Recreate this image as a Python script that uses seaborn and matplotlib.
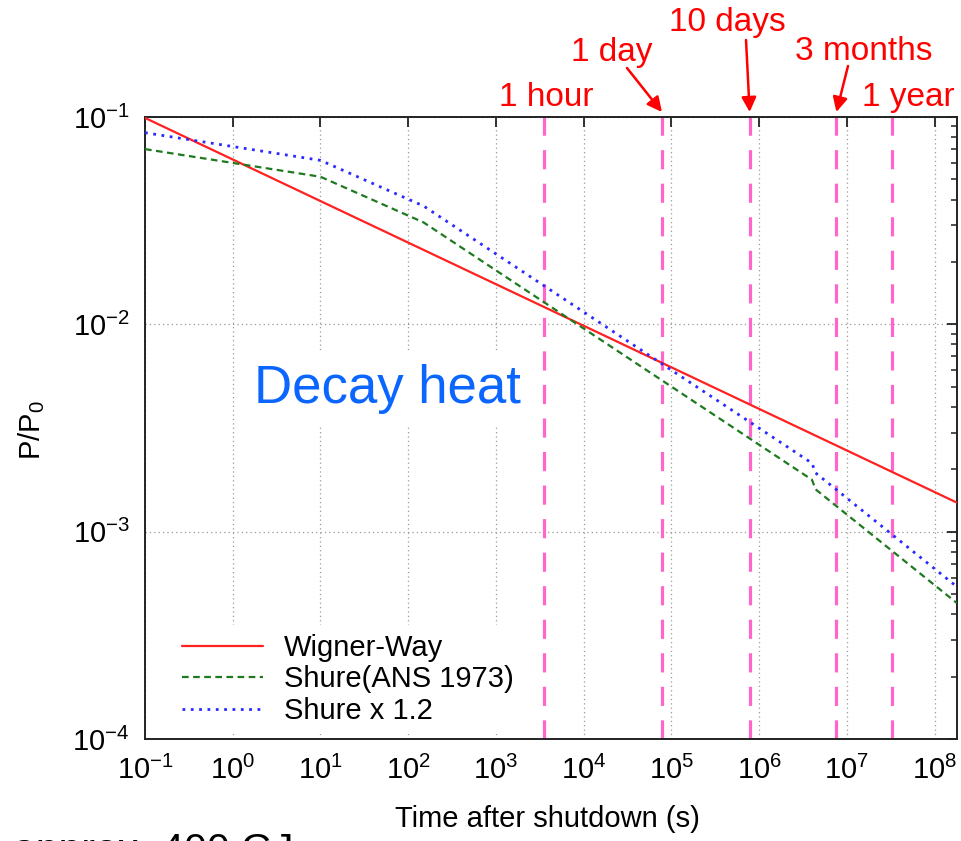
import numpy as np
import pandas as pd
import matplotlib
matplotlib.use("Agg")
import matplotlib.pyplot as plt
import seaborn as sns

# values (time in s, P/P0)
wigner_t = [0.1, 1.8e8]
wigner_p = [0.0990, 0.00138]

shure_t = [0.1, 10, 150, 4.0e6, 4.4e6, 1.8e8]
shure_p = [0.0700, 0.0515, 0.0310, 0.00178, 0.00160, 0.000452]

shure12_t = [0.1, 10, 150, 4.0e6, 4.4e6, 1.8e8]
shure12_p = [0.0840, 0.0618, 0.0372, 0.00214, 0.00192, 0.000542]

mark_t = [3500, 78000, 780000, 7.6e6, 3.3e7]
mark_labels = ["1 hour", "1 day", "10 days", "3 months", "1 year"]

sns.set_theme(style="white")
plt.rcParams['font.family'] = ['Liberation Sans', 'DejaVu Sans']
plt.rcParams['mathtext.default'] = 'regular'
plt.rcParams['axes.unicode_minus'] = False
plt.rcParams['text.color'] = 'black'
plt.rcParams['axes.labelcolor'] = 'black'
plt.rcParams['xtick.color'] = 'black'
plt.rcParams['ytick.color'] = 'black'

W, H = 962, 841
fig = plt.figure(figsize=(W / 100, H / 100), dpi=100)
ax = fig.add_axes([145 / W, 1 - 739 / H, (957 - 145) / W, (739 - 117) / H])

df_w = pd.DataFrame({"t": wigner_t, "p": wigner_p})
df_s = pd.DataFrame({"t": shure_t, "p": shure_p})
df_s12 = pd.DataFrame({"t": shure12_t, "p": shure12_p})

sns.lineplot(data=df_w, x="t", y="p", ax=ax, color="#ff2020", lw=1.6,
             estimator=None, sort=False, label="Wigner-Way", zorder=3)
sns.lineplot(data=df_s, x="t", y="p", ax=ax, color="#1e7a1e", lw=1.6,
             estimator=None, sort=False, label="Shure(ANS 1973)", zorder=3,
             linestyle=(0, (3, 2)))
sns.lineplot(data=df_s12, x="t", y="p", ax=ax, color="#2a2aff", lw=2.0,
             estimator=None, sort=False, label="Shure x 1.2", zorder=3,
             linestyle=(0, (1, 2)))

ax.set_xscale("log")
ax.set_yscale("log")
ax.set_xlim(0.1, 1.8e8)
ax.set_ylim(1e-4, 1e-1)

# time markers
for t in mark_t:
    ax.axvline(t, color="#ff66cc", lw=2.3, linestyle=(0, (6, 4.5)), zorder=2)

ax.xaxis.set_major_locator(matplotlib.ticker.LogLocator(base=10, numticks=20))
ax.xaxis.set_minor_locator(matplotlib.ticker.NullLocator())
ax.yaxis.set_minor_locator(matplotlib.ticker.LogLocator(base=10, subs=np.arange(2, 10), numticks=20))

ax.set_axisbelow(True)
ax.grid(True, which="major", color="#9a9a9a", lw=0.9, linestyle=(0, (1, 2.5)))
ax.tick_params(which="both", direction="in", top=True, right=True, labelsize=21, color="#222222")
ax.tick_params(which="major", length=7, width=1.3)
ax.tick_params(which="minor", length=4, width=1.1)
ax.tick_params(axis="y", pad=11)
ax.tick_params(axis="x", pad=12)
for s in ax.spines.values():
    s.set_linewidth(1.4)
    s.set_color("#222222")

ax.set_xlabel("Time after shutdown (s)", fontsize=21)
ax.set_ylabel("P/P$_0$", fontsize=21)
ax.xaxis.set_label_coords((547 - 145) / 812, (739 - 805) / 622)
ax.yaxis.set_label_coords((47 - 145) / 812, (739 - 430) / 622)

leg = ax.legend(loc="upper left", bbox_to_anchor=((173 - 145) / 812, (739 - 625) / 622),
                fontsize=21, frameon=True, facecolor="white", edgecolor="none",
                framealpha=1, handlelength=2.8, handletextpad=0.7,
                labelspacing=0.12, borderpad=0.3, borderaxespad=0)
leg.set_zorder(5)

ax.text((387 - 145) / 812, (739 - 403) / 622, "Decay heat", transform=ax.transAxes,
        ha="center", va="baseline", fontsize=38, color="#0a66ff", zorder=1,
        bbox=dict(boxstyle="square,pad=0.2", facecolor="white", edgecolor="none"))

# labels above the plot
label_pos = [(546, 106), (612, 61), (727, 31), (864, 60), (908, 106)]
for lab, (px, py) in zip(mark_labels, label_pos):
    fig.text(px / W, 1 - py / H, lab, ha="center", va="baseline", fontsize=24, color="#ff0000")

arrow_tails = {1: (627, 68), 2: (746, 40), 3: (848, 66)}
for i, (px, py) in arrow_tails.items():
    ax.annotate("", xy=(mark_t[i], 1.008), xycoords=("data", "axes fraction"),
                xytext=(px / W, 1 - py / H), textcoords="figure fraction",
                arrowprops=dict(arrowstyle="-|>", color="#ff0000", lw=1.8,
                                mutation_scale=22, shrinkA=0, shrinkB=0),
                annotation_clip=False)

# slide text cut by the bottom edge, as in the reference
fig.text(13 / W, 1 - 862 / H, "approx. 400 GJ", ha="left", va="baseline", fontsize=29.5, color="black")

fig.savefig("out.png", dpi=100)
